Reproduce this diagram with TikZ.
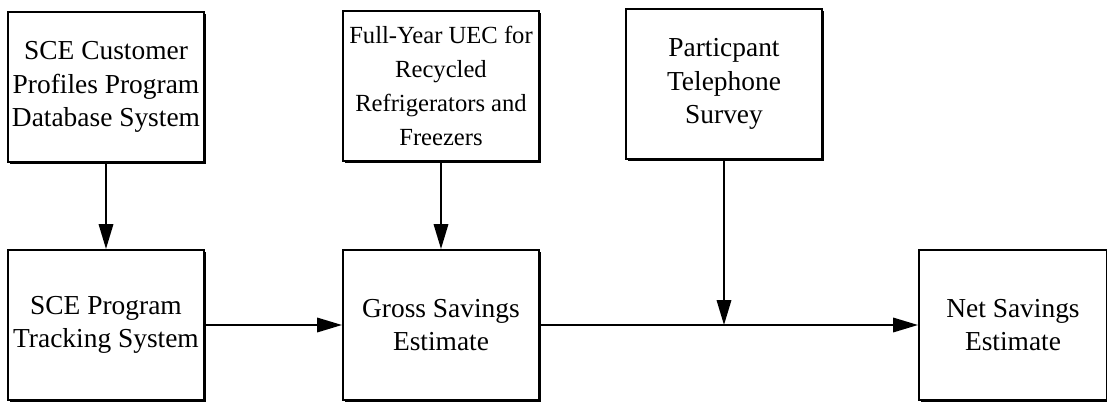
\documentclass[tikz,border=0pt]{standalone}
\usepackage{fontspec}
\setmainfont{Liberation Serif}
\usetikzlibrary{arrows.meta,shadows}
\tikzset{
  kasten/.style={draw=black,line width=1.4pt,fill=white,align=center,
    minimum width=4.9cm,minimum height=3.75cm,inner sep=1pt,
    font=\fontsize{19.5}{24}\selectfont,
    drop shadow={shadow xshift=1.4pt,shadow yshift=-1.4pt,opacity=1,fill=black}},
  pfeil/.style={draw=black,line width=1.4pt,-{Triangle[length=0.62cm,width=0.36cm]}}
}
\begin{document}
\begin{tikzpicture}[x=0.025cm,y=-0.025cm]
\useasboundingbox (0,0) rectangle (1107,402);
%Obere Reihe
	\node[kasten] (profile) at (106,87)
		{SCE Customer\\Profiles Program\\Database System};
	\node[kasten,font=\fontsize{17.5}{24}\selectfont] (uec) at (441,86)
		{Full-Year UEC for\\Recycled\\Refrigerators and\\Freezers};
	\node[kasten] (survey) at (724,84)
		{Particpant\\Telephone\\Survey};
%Untere Reihe
	\node[kasten] (tracking) at (106,325)
		{SCE Program\\Tracking System};
	\node[kasten] (gross) at (441,325)
		{Gross Savings\\Estimate};
	\node[kasten,minimum width=4.7cm] (net) at (1013,325)
		{Net Savings\\Estimate};
%Pfeile
	\coordinate (mitte) at (survey.south |- gross.east);
	\draw[pfeil] (profile.south) -- (tracking.north);
	\draw[pfeil] (uec.south) -- (gross.north);
	\draw[pfeil] (tracking.east) -- (gross.west);
	\draw[pfeil] (gross.east) -- (net.west);
	\draw[pfeil] (survey.south) -- (mitte);
\end{tikzpicture}
\end{document}
